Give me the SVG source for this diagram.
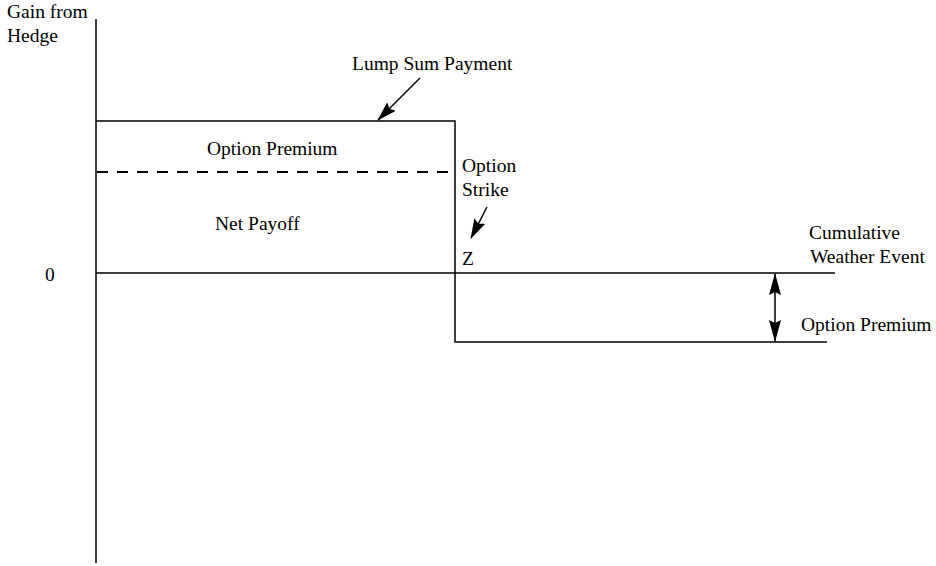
<svg xmlns="http://www.w3.org/2000/svg" width="936" height="566" viewBox="0 0 936 566">
<style>
text{font-family:"Liberation Serif","Times New Roman",serif;font-size:19.5px;fill:#000}
.l{stroke:#000;stroke-width:1.5;fill:none}
</style>
<defs>
<marker id="ah" viewBox="0 0 20 12" refX="19" refY="6" markerWidth="20" markerHeight="12" markerUnits="userSpaceOnUse" orient="auto-start-reverse"><path d="M0,0 L20,6 L0,12 L3,6 z" fill="#000"/></marker>
<marker id="ah2" viewBox="0 0 22 12" refX="21" refY="6" markerWidth="22" markerHeight="12" markerUnits="userSpaceOnUse" orient="auto-start-reverse"><path d="M0,0 L22,6 L0,12 L3,6 z" fill="#000"/></marker>
</defs>
<rect width="936" height="566" fill="#fff"/>
<g id="axes">
<line class="l" x1="96" y1="19" x2="96" y2="563"/>
<line class="l" x1="96" y1="273" x2="835" y2="273"/>
</g>
<g id="payoff">
<polyline class="l" points="96,121 455,121 455,342 827,342"/>
<line x1="97" y1="172" x2="452" y2="172" stroke="#000" stroke-width="2" stroke-dasharray="11,9"/>
</g>
<g id="connectors">
<line class="l" x1="420" y1="78" x2="378" y2="120" marker-end="url(#ah)"/>
<line class="l" x1="487" y1="207" x2="471" y2="238" marker-end="url(#ah)"/>
<line class="l" x1="775" y1="274" x2="775" y2="341" marker-start="url(#ah2)" marker-end="url(#ah2)"/>
</g>
<g id="labels">
<text x="7" y="18">Gain from</text>
<text x="7" y="42">Hedge</text>
<text x="352" y="70">Lump Sum Payment</text>
<text x="207" y="155">Option Premium</text>
<text x="215" y="230">Net Payoff</text>
<text x="462" y="172">Option</text>
<text x="462" y="196">Strike</text>
<text x="462" y="265">Z</text>
<text x="45" y="281">0</text>
<text x="809" y="239">Cumulative</text>
<text x="810" y="263">Weather Event</text>
<text x="801" y="331">Option Premium</text>
</g>
</svg>
